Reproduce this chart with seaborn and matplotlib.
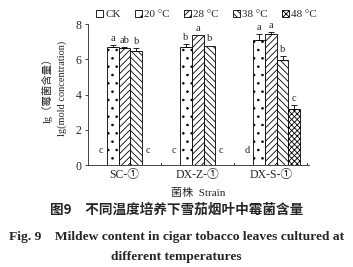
import matplotlib
matplotlib.use("Agg")
import matplotlib.pyplot as plt
import seaborn as sns
import pandas as pd
import numpy as np
from matplotlib.patches import Patch

strains = ["SC-①", "DX-Z-①", "DX-S-①"]
temps = ["CK", "20 °C", "28 °C", "38 °C", "48 °C"]
ck = [0.0, 0.0, 0.0]
t20 = [6.70, 6.70, 7.12]
t28 = [6.66, 7.35, 7.42]
t38 = [6.48, 6.78, 5.98]
t48 = [0.0, 0.0, 3.20]
err_ck = [0.0, 0.0, 0.0]
err20 = [0.10, 0.15, 0.30]
err28 = [0.05, 0.0, 0.10]
err38 = [0.15, 0.0, 0.20]
err48 = [0.0, 0.0, 0.20]
sig_ck = ["c", "c", "d"]
sig20 = ["a", "b", "a"]
sig28 = ["ab", "a", "a"]
sig38 = ["b", "b", "b"]
sig48 = ["c", "c", "c"]

vals = [ck, t20, t28, t38, t48]
errs = [err_ck, err20, err28, err38, err48]
sigs = [sig_ck, sig20, sig28, sig38, sig48]

rows = []
for t, v in zip(temps, vals):
    for s, x in zip(strains, v):
        rows.append({"Strain": s, "Temp": t, "Value": x})
df = pd.DataFrame(rows)

sns.set_style("ticks")
serif = ["Liberation Serif", "Noto Sans CJK SC"]
plt.rcParams["font.family"] = serif
plt.rcParams["hatch.linewidth"] = 0.6

fig = plt.figure(figsize=(3.53, 2.67), dpi=100)
ax = fig.add_axes([0.249, 0.382, 0.626, 0.528])

pal = ["white"] * 5
sns.barplot(data=df, x="Strain", y="Value", hue="Temp", order=strains,
            hue_order=temps, palette=pal, errorbar=None, width=0.8,
            edgecolor="black", linewidth=0.6, ax=ax, legend=False)

hatches = ["", "..", "/////", "\\\\\\\\\\", "xxxxxx"]
bar_conts = list(ax.containers)
for ci, cont in enumerate(bar_conts):
    for bi, bar in enumerate(cont.patches):
        bar.set_hatch(hatches[ci])
        x = bar.get_x() + bar.get_width() / 2
        h = bar.get_height()
        e = errs[ci][bi]
        if e > 0:
            ax.errorbar(x, h, yerr=[[0], [e]], fmt="none", ecolor="black",
                        elinewidth=0.6, capsize=2.5, capthick=0.6)
        ytxt = h + e + 0.12 if h > 0 else 0.55
        ax.text(x, ytxt, sigs[ci][bi], ha="center", va="bottom", fontsize=7.5)

ax.set_ylim(0, 8)
ax.set_xlim(-0.5, 2.52)
ax.set_yticks([0, 2, 4, 6, 8])
ax.tick_params(axis="y", direction="out", length=2.5, width=0.6, labelsize=8.5, pad=2)
ax.tick_params(axis="x", length=0, labelsize=8.5, pad=3)
ax.set_xticks([0, 1, 2])
ax.set_xticklabels(strains, family=serif)
for xb in [0.5, 1.5, 2.5]:
    ax.plot([xb, xb], [0, 0.12], color="black", lw=0.6)
for sp in ["top", "right"]:
    ax.spines[sp].set_visible(False)
ax.spines["left"].set_linewidth(0.6)
ax.spines["bottom"].set_linewidth(0.6)
ax.set_xlabel("菌株  Strain", fontsize=8, labelpad=5)
ax.set_ylabel("")
fig.text(0.133, 0.67, "lg（霉菌含量）", rotation=90, ha="center", va="center", fontsize=7.5)
fig.text(0.176, 0.67, "lg(mold concentration)", rotation=90, ha="center", va="center", fontsize=7.5)

handles = [Patch(facecolor="white", edgecolor="black", hatch=h, linewidth=0.6) for h in hatches]
fig.legend(handles, temps, loc="center", bbox_to_anchor=(0.585, 0.945), ncol=5,
           frameon=False, fontsize=8, handlelength=0.6, handleheight=0.6,
           handletextpad=0.2, columnspacing=1.3)

fig.text(0.5, 0.213, "图9　不同温度培养下雪茄烟叶中霉菌含量", ha="center", va="center",
         fontsize=9.8, fontweight="bold", family=["Noto Sans CJK SC"])
fig.text(0.5, 0.113, "Fig. 9　Mildew content in cigar tobacco leaves cultured at",
         ha="center", va="center", fontsize=9.7, fontweight="bold", family=serif)
fig.text(0.5, 0.038, "different temperatures", ha="center", va="center",
         fontsize=9.7, fontweight="bold", family=serif)

fig.savefig("out.png", dpi=100)
